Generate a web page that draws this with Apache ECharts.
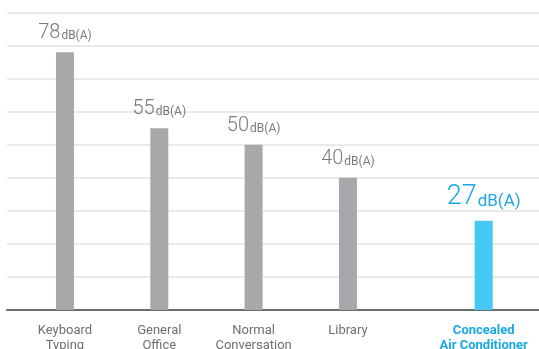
<!DOCTYPE html>
<html>
<head>
<meta charset="utf-8">
<script src="https://cdn.jsdelivr.net/npm/echarts@6/dist/echarts.min.js"></script>
<style>
    html, body { margin: 0; padding: 0; background: #fff; }
    #chart { width: 539px; height: 349px; }
</style>
</head>
<body>
<div id="chart"></div>
<script>
    // noise levels of everyday sounds, gray bars
    const categories = ['Keyboard\nTyping', 'General\nOffice', 'Normal\nConversation', 'Library'];
    const values = [78, 55, 50, 40];
    // the highlighted product, blue bar
    const acCategory = ['Concealed\nAir Conditioner'];
    const acValues = [27];
    const unit = 'dB(A)';
    const yMin = 0;
    const yMax = 90;
    const yStep = 10;

    const chart = echarts.init(document.getElementById('chart'));

    const hiddenY = function (gridIndex) {
        return {
            type: 'value', gridIndex: gridIndex, min: yMin, max: yMax, interval: yStep,
            axisLine: {show: false}, axisTick: {show: false}, axisLabel: {show: false},
            splitLine: {show: false}
        };
    };

    const option = {
        animation: false,
        backgroundColor: '#fff',
        textStyle: {fontFamily: 'Roboto'},
        grid: [
            // full width background with the grid lines and baseline
            {left: 7, right: 0, top: 12.5, bottom: 39, outerBoundsMode: 'none'},
            {left: 17.8, width: 377.3, top: 12.5, bottom: 39, outerBoundsMode: 'none'},
            {left: 433.7, width: 100, top: 12.5, bottom: 39, outerBoundsMode: 'none'}
        ],
        xAxis: [
            {
                type: 'category', gridIndex: 0, data: [''],
                axisLine: {lineStyle: {color: '#6b6b6b', width: 2}},
                axisTick: {show: false}, axisLabel: {show: false}
            },
            {
                type: 'category', gridIndex: 1, data: categories,
                axisLine: {show: false}, axisTick: {show: false},
                axisLabel: {color: '#6f6f6f', fontSize: 13, lineHeight: 15, margin: 13, interval: 0}
            },
            {
                type: 'category', gridIndex: 2, data: acCategory,
                axisLine: {show: false}, axisTick: {show: false},
                axisLabel: {color: '#1aa8e2', fontSize: 13, fontWeight: 'bold', lineHeight: 15, margin: 13, interval: 0}
            }
        ],
        yAxis: [
            {
                type: 'value', gridIndex: 0, min: yMin, max: yMax, interval: yStep,
                axisLine: {show: false}, axisTick: {show: false}, axisLabel: {show: false},
                splitLine: {lineStyle: {color: '#e3e3e3', width: 1.5}}
            },
            hiddenY(1),
            hiddenY(2)
        ],
        series: [
            {
                type: 'bar', xAxisIndex: 1, yAxisIndex: 1, data: values,
                barWidth: 18,
                itemStyle: {color: '#a7a8ab'},
                label: {
                    show: true, position: 'top', distance: 9,
                    formatter: '{n|{c}}{u|' + unit + '}',
                    rich: {
                        n: {fontSize: 20, color: '#7a7a7a', fontWeight: 300, verticalAlign: 'bottom', lineHeight: 20},
                        u: {fontSize: 12, color: '#7a7a7a', verticalAlign: 'bottom', lineHeight: 14, padding: [0, 0, 1, 1]}
                    }
                }
            },
            {
                type: 'bar', xAxisIndex: 2, yAxisIndex: 2, data: acValues,
                barWidth: 18,
                itemStyle: {color: '#45c8f5'},
                label: {
                    show: true, position: 'top', distance: 10,
                    formatter: '{n|{c}}{u|' + unit + '}',
                    rich: {
                        n: {fontSize: 27, color: '#1aa8e2', fontWeight: 300, verticalAlign: 'bottom', lineHeight: 27},
                        u: {fontSize: 17, color: '#1aa8e2', verticalAlign: 'bottom', lineHeight: 20, padding: [0, 0, 1, 1]}
                    }
                }
            }
        ]
    };
    chart.setOption(option);
</script>
</body>
</html>
